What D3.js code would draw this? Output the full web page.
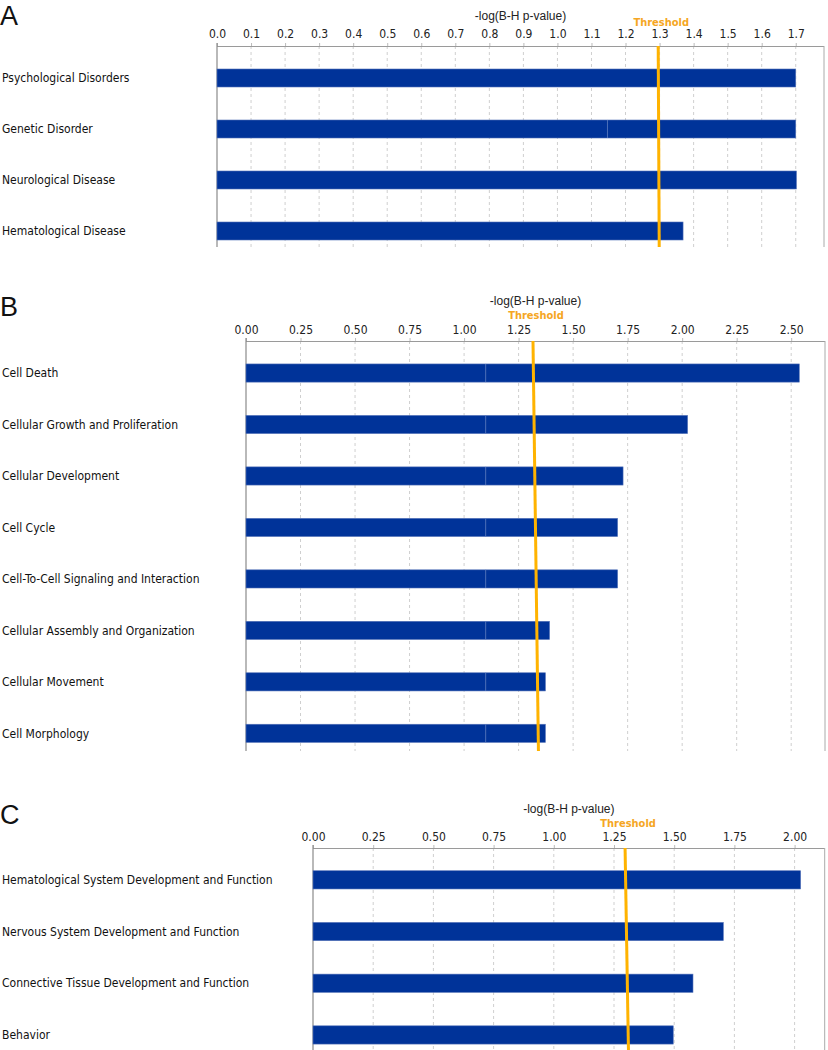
<!DOCTYPE html>
<html>
<head>
<meta charset="utf-8">
<script src="https://cdn.jsdelivr.net/npm/d3@7"></script>
<style>
  html, body { margin: 0; padding: 0; background: #fff; }
  svg { display: block; }
</style>
</head>
<body>
<svg id="chart" width="828" height="1050"></svg>
<script>
// ---------- DATA ----------
const catsA = ["Psychological Disorders", "Genetic Disorder", "Neurological Disease", "Hematological Disease"];
const valsA = [1.70, 1.70, 1.702, 1.369];
const splitA = [null, 1.147, null, null];
const ticksA = [0, 0.1, 0.2, 0.3, 0.4, 0.5, 0.6, 0.7, 0.8, 0.9, 1.0, 1.1, 1.2, 1.3, 1.4, 1.5, 1.6, 1.7];
const thresholdA = [1.296, 1.299];   // [at top, at bottom]

const catsB = ["Cell Death", "Cellular Growth and Proliferation", "Cellular Development", "Cell Cycle",
  "Cell-To-Cell Signaling and Interaction", "Cellular Assembly and Organization", "Cellular Movement", "Cell Morphology"];
const valsB = [2.537, 2.025, 1.729, 1.704, 1.704, 1.392, 1.373, 1.373];
const splitB = [1.099, 1.099, 1.099, 1.099, 1.099, 1.099, 1.099, 1.099];
const ticksB = [0, 0.25, 0.5, 0.75, 1.0, 1.25, 1.5, 1.75, 2.0, 2.25, 2.5];
const thresholdB = [1.316, 1.341];

const catsC = ["Hematological System Development and Function", "Nervous System Development and Function",
  "Connective Tissue Development and Function", "Behavior"];
const valsC = [2.025, 1.704, 1.578, 1.496];
const splitC = [null, null, null, null];
const ticksC = [0, 0.25, 0.5, 0.75, 1.0, 1.25, 1.5, 1.75, 2.0];
const thresholdC = [1.296, 1.31];

const axisTitle = "-log(B-H p-value)";
const thresholdLabel = "Threshold";

// ---------- LAYOUT ----------
const panels = [
  { letter: "A", cats: catsA, vals: valsA, split: splitA, ticks: ticksA, thr: thresholdA, fmt: ".1f",
    left: 217, right: 824, axisY: 46, bottom: 247, bandStart: 52.5, step: 51, max: 1.783,
    letterY: 25, titleY: 20, thrY: 26, tickY: 38 },
  { letter: "B", cats: catsB, vals: valsB, split: splitB, ticks: ticksB, thr: thresholdB, fmt: ".2f",
    left: 246, right: 825, axisY: 341, bottom: 751, bandStart: 347.3, step: 51.47, max: 2.655,
    letterY: 316, titleY: 305, thrY: 319, tickY: 334 },
  { letter: "C", cats: catsC, vals: valsC, split: splitC, ticks: ticksC, thr: thresholdC, fmt: ".2f",
    left: 313, right: 824.7, axisY: 848, bottom: 1050, bandStart: 854, step: 51.7, max: 2.125,
    letterY: 824, titleY: 813, thrY: 827, tickY: 841 }
];

const svg = d3.select("#chart");
const labelFont = "'DejaVu Sans Condensed', 'DejaVu Sans', sans-serif";
const barColor = "#003399";
const thrColor = "#FFB300";

panels.forEach(p => {
  const g = svg.append("g");
  const x = d3.scaleLinear().domain([0, p.max]).range([p.left, p.right]);
  const n = p.cats.length;
  const pad = 0.647;
  const y = d3.scaleBand().domain(p.cats)
    .range([p.bandStart, p.bandStart + p.step * n])
    .paddingInner(pad).paddingOuter(pad / 2);

  // panel letter
  g.append("text").attr("x", 0).attr("y", p.letterY)
    .attr("font-family", "'Liberation Sans', Arial, sans-serif")
    .attr("font-size", 27).attr("fill", "#111").text(p.letter);

  // gridlines
  g.selectAll("line.grid").data(p.ticks.filter(t => t > 0)).enter().append("line")
    .attr("class", "grid")
    .attr("x1", d => x(d)).attr("x2", d => x(d))
    .attr("y1", p.axisY).attr("y2", p.bottom)
    .attr("stroke", "#cfcfcf").attr("stroke-width", 1)
    .attr("stroke-dasharray", "3,3");

  // top axis
  const axis = d3.axisTop(x).tickValues(p.ticks).tickFormat(d3.format(p.fmt)).tickSize(3).tickSizeOuter(0);
  const ag = g.append("g").attr("transform", `translate(0,${p.axisY})`).call(axis);
  ag.select(".domain").attr("stroke", "#9a9a9a").attr("d", `M${p.left},0.5H${p.right}`);
  ag.selectAll(".tick line").attr("stroke", "#bbb");
  ag.selectAll(".tick text")
    .attr("y", -(p.axisY - p.tickY)).attr("dy", 0)
    .attr("font-family", labelFont).attr("font-size", 12).attr("fill", "#222");

  // frame: left and right borders
  g.append("line").attr("x1", p.left).attr("x2", p.left).attr("y1", p.axisY - 3).attr("y2", p.bottom)
    .attr("stroke", "#8a8a8a").attr("stroke-width", 1.2);
  g.append("line").attr("x1", p.right).attr("x2", p.right).attr("y1", p.axisY).attr("y2", p.bottom)
    .attr("stroke", "#aaa").attr("stroke-width", 1);

  // axis title
  g.append("text").attr("x", (p.left + p.right) / 2).attr("y", p.titleY)
    .attr("text-anchor", "middle")
    .attr("font-family", "'Liberation Sans', Arial, sans-serif").attr("font-size", 12)
    .attr("fill", "#222").text(axisTitle);

  // bars
  const data = p.cats.map((c, i) => ({ cat: c, val: p.vals[i], split: p.split[i] }));
  g.selectAll("rect.bar").data(data).enter().append("rect")
    .attr("class", "bar")
    .attr("x", x(0)).attr("y", d => y(d.cat))
    .attr("width", d => x(d.val) - x(0)).attr("height", y.bandwidth())
    .attr("fill", barColor).attr("stroke", "#5573b8").attr("stroke-width", 0.6);

  // faint segment separators in bars
  g.selectAll("line.split").data(data.filter(d => d.split != null)).enter().append("line")
    .attr("class", "split")
    .attr("x1", d => x(d.split)).attr("x2", d => x(d.split))
    .attr("y1", d => y(d.cat)).attr("y2", d => y(d.cat) + y.bandwidth())
    .attr("stroke", "#5f7fc2").attr("stroke-width", 0.8);

  // category labels
  g.selectAll("text.cat").data(data).enter().append("text")
    .attr("class", "cat")
    .attr("x", 2).attr("y", d => y(d.cat) + y.bandwidth() / 2).attr("dy", "0.35em")
    .attr("font-family", labelFont).attr("font-size", 12).attr("fill", "#111")
    .text(d => d.cat);

  // threshold line
  g.append("line")
    .attr("x1", x(p.thr[0])).attr("y1", p.axisY)
    .attr("x2", x(p.thr[1])).attr("y2", p.bottom)
    .attr("stroke", thrColor).attr("stroke-width", 3);
  g.append("text").attr("x", x(p.thr[0]) + 3).attr("y", p.thrY)
    .attr("text-anchor", "middle")
    .attr("font-family", labelFont).attr("font-weight", "bold").attr("font-size", 11)
    .attr("fill", "#F5A623").text(thresholdLabel);
});
</script>
</body>
</html>
